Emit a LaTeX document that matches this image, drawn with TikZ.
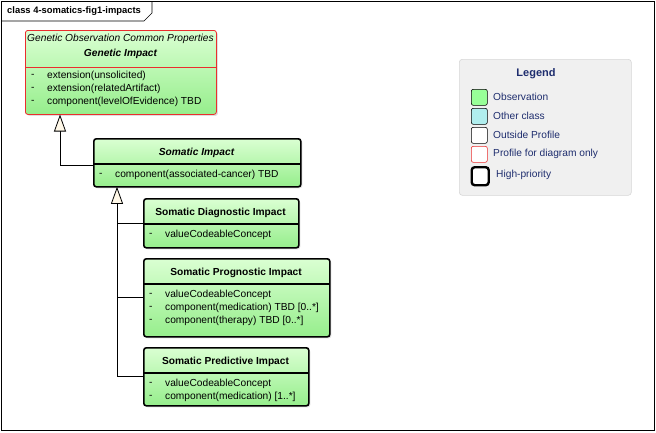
\documentclass[tikz,border=0pt]{standalone}
\usepackage{fontspec}
\setmainfont{Liberation Sans}
\usetikzlibrary{arrows.meta,shadows}
\definecolor{gtop}{RGB}{218,255,210}
\definecolor{gbot}{RGB}{150,238,140}
\definecolor{redb}{RGB}{235,45,45}
\definecolor{navy}{RGB}{30,45,110}
\definecolor{cream}{RGB}{255,248,232}
\definecolor{legfill}{RGB}{240,240,240}
\definecolor{legdraw}{RGB}{215,215,215}
\definecolor{obsgreen}{RGB}{152,255,152}
\definecolor{othercyan}{RGB}{176,238,238}
\begin{document}
\begin{tikzpicture}[x=1pt,y=-1pt,
  font=\fontsize{10.2}{12}\selectfont,
  clsbase/.style={rectangle, rounded corners=2.5pt, anchor=north west, inner sep=0pt,
    top color=gtop, bottom color=gbot,
    drop shadow={shadow xshift=1.5pt, shadow yshift=-1.5pt, opacity=0.25}},
  gencls/.style={clsbase, draw=redb, line width=0.8pt},
  hicls/.style={clsbase, draw=black, line width=1.6pt},
  attr/.style={anchor=west, inner sep=0pt},
  ttl/.style={inner sep=0pt, font=\fontsize{10.2}{12}\selectfont\bfseries},
  genarrow/.style={line width=0.8pt, -{Triangle[length=17pt,width=12pt,fill=cream,line width=0.8pt]}},
  conn/.style={line width=0.8pt},
  swatch/.style={rectangle, anchor=north west, inner sep=0pt, minimum width=16pt, minimum height=16pt, rounded corners=2pt, draw=black, line width=0.6pt},
  legtxt/.style={anchor=west, inner sep=0pt, text=navy}
]
\useasboundingbox (0,0) rectangle (656,432);
% frame
\draw[line width=0.6pt] (1,1) rectangle (654.5,430.5);
\draw[line width=0.6pt] (1,21) -- (144,21) -- (152,13) -- (152,1);
\node[anchor=west, inner sep=0pt, font=\fontsize{9.4}{11}\selectfont\bfseries] (frametitle) at (7,11) {class 4-somatics-fig1-impacts};

% Genetic Impact
\node[gencls, minimum width=191pt, minimum height=84pt] (gen) at (25,30) {};
\node[inner sep=0pt, font=\fontsize{10.2}{12}\selectfont\itshape] (gent1) at (120.5,39) {Genetic Observation Common Properties};
\node[inner sep=0pt, font=\fontsize{10.2}{12}\selectfont\bfseries\itshape] (gent2) at (120.5,54) {Genetic Impact};
\draw[redb, line width=0.8pt] (25,67) -- (216,67);
\node[attr] (ga1d) at (31,76) {-};
\node[attr] (ga1) at (47,76) {extension(unsolicited)};
\node[attr] (ga2d) at (31,89) {-};
\node[attr] (ga2) at (47,89) {extension(relatedArtifact)};
\node[attr] (ga3d) at (31,102) {-};
\node[attr] (ga3) at (47,102) {component(levelOfEvidence) TBD};

% Somatic Impact
\node[hicls, minimum width=207pt, minimum height=48pt] (som) at (93,138) {};
\node[ttl, font=\fontsize{10.2}{12}\selectfont\bfseries\itshape] (somt) at (196.5,153) {Somatic Impact};
\draw[line width=1.6pt] (93,164) -- (300,164);
\node[attr] (sa1d) at (99,175) {-};
\node[attr] (sa1) at (115,175) {component(associated-cancer) TBD};

% Somatic Diagnostic Impact
\node[hicls, minimum width=155pt, minimum height=49pt] (diag) at (143,198) {};
\node[ttl] (diagt) at (220.5,213) {Somatic Diagnostic Impact};
\draw[line width=1.6pt] (143,224) -- (298,224);
\node[attr] (da1d) at (149,235) {-};
\node[attr] (da1) at (165,235) {valueCodeableConcept};

% Somatic Prognostic Impact
\node[hicls, minimum width=186pt, minimum height=78pt] (prog) at (143,258) {};
\node[ttl] (progt) at (236,273) {Somatic Prognostic Impact};
\draw[line width=1.6pt] (143,284) -- (329,284);
\node[attr] (pa1d) at (149,295) {-};
\node[attr] (pa1) at (165,295) {valueCodeableConcept};
\node[attr] (pa2d) at (149,308) {-};
\node[attr] (pa2) at (165,308) {component(medication) TBD [0..*]};
\node[attr] (pa3d) at (149,321) {-};
\node[attr] (pa3) at (165,321) {component(therapy) TBD [0..*]};

% Somatic Predictive Impact
\node[hicls, minimum width=165pt, minimum height=58pt] (pred) at (143,347) {};
\node[ttl] (predt) at (225.5,362) {Somatic Predictive Impact};
\draw[line width=1.6pt] (143,373) -- (308,373);
\node[attr] (ra1d) at (149,384) {-};
\node[attr] (ra1) at (165,384) {valueCodeableConcept};
\node[attr] (ra2d) at (149,397) {-};
\node[attr] (ra2) at (165,397) {component(medication) [1..*]};

% generalizations
\coordinate (apex1) at (60,114.5);
\coordinate (apex2) at (117,186.8);
\coordinate (s1) at (93,165);
\draw[genarrow] (s1) -| (apex1);
\coordinate (j1) at (apex2 |- diag.west);
\draw[genarrow] (diag.west) -| (apex2);
\draw[conn] (prog.west) -| (j1);
\draw[conn] (pred.west) -| (j1);

% Legend
\node[rectangle, anchor=north west, inner sep=0pt, minimum width=172pt, minimum height=136pt, fill=legfill, draw=legdraw, line width=0.6pt, rounded corners=3pt] (leg) at (459,59) {};
\node[inner sep=0pt, text=navy, font=\fontsize{11}{13}\selectfont\bfseries] (legt) at (536,74) {Legend};
\node[swatch, fill=obsgreen] (sw1) at (471,89) {};
\node[legtxt] (lt1) at (493,97) {Observation};
\node[swatch, fill=othercyan] (sw2) at (471,108) {};
\node[legtxt] (lt2) at (493,116) {Other class};
\node[swatch, fill=white] (sw3) at (471,127) {};
\node[legtxt] (lt3) at (493,135) {Outside Profile};
\node[swatch, fill=white, draw=redb] (sw4) at (471,146) {};
\node[legtxt] (lt4) at (493,154) {Profile for diagram only};
\node[swatch, fill=white, line width=2.4pt, minimum width=17pt, minimum height=18pt, rounded corners=3pt] (sw5) at (470.5,166) {};
\node[legtxt] (lt5) at (496,175) {High-priority};
\end{tikzpicture}
\end{document}
